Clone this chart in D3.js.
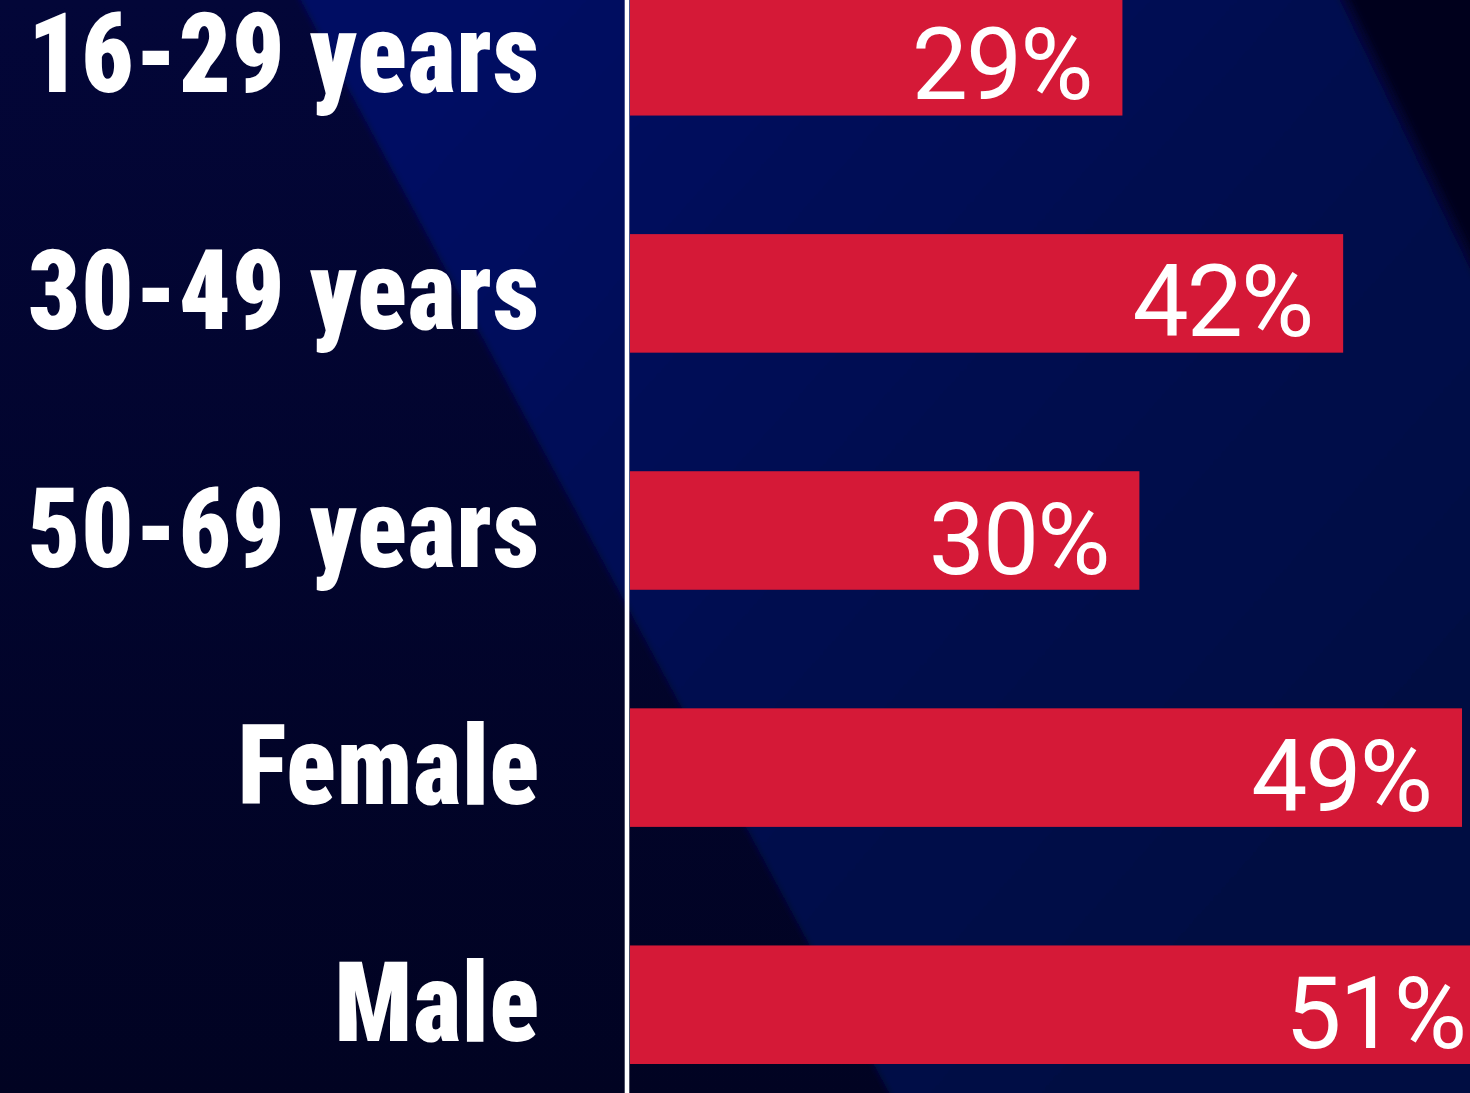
<!DOCTYPE html>
<html>
<head>
<meta charset="utf-8">
<script src="https://cdn.jsdelivr.net/npm/d3@7"></script>
<style>
  html, body { margin: 0; padding: 0; background: #02042a; overflow: hidden; }
  svg { display: block; }
</style>
</head>
<body>
<svg id="chart"></svg>
<script>
const categories = ["16-29 years", "30-49 years", "50-69 years", "Female", "Male"];
const shares = [29, 42, 30, 49, 51];

const W = 1470, H = 1093;
const axisX = 627;
const barLeft = 630;

const svg = d3.select("#chart").attr("width", W).attr("height", H);
const defs = svg.append("defs");

// background: dark navy with a diagonal lighter band
const bandGrad = defs.append("linearGradient")
  .attr("id", "band-grad")
  .attr("gradientUnits", "userSpaceOnUse")
  .attr("x1", 400).attr("y1", 100)
  .attr("x2", 1300).attr("y2", 900);
bandGrad.append("stop").attr("offset", 0).attr("stop-color", "#061064");
bandGrad.append("stop").attr("offset", 0.45).attr("stop-color", "#040d52");
bandGrad.append("stop").attr("offset", 1).attr("stop-color", "#030a42");

const leftGrad = defs.append("linearGradient")
  .attr("id", "left-grad")
  .attr("x1", 0).attr("y1", 0).attr("x2", 0).attr("y2", 1);
leftGrad.append("stop").attr("offset", 0).attr("stop-color", "#030638");
leftGrad.append("stop").attr("offset", 1).attr("stop-color", "#010322");

defs.append("filter").attr("id", "soft")
  .attr("x", "-5%").attr("y", "-5%").attr("width", "110%").attr("height", "110%")
  .append("feGaussianBlur").attr("stdDeviation", 3);

svg.append("rect").attr("width", W).attr("height", H).attr("fill", "url(#left-grad)");
svg.append("path")
  .attr("d", `M290,-20 L1330,-20 L${W + 20},310 L${W + 20},${H + 20} L900,${H + 20} Z`)
  .attr("fill", "url(#band-grad)")
  .attr("filter", "url(#soft)");
svg.append("path")
  .attr("d", `M1340,-20 L${W + 20},-20 L${W + 20},290 Z`)
  .attr("fill", "#02021a")
  .attr("filter", "url(#soft)");

const x = d3.scaleLinear().domain([0, 100]).range([barLeft, barLeft + 1698]);
const y = d3.scaleBand()
  .domain(categories)
  .range([-3, 1064])
  .paddingInner(0.5)
  .paddingOuter(0);

const data = categories.map((name, i) => ({ name, value: shares[i] }));

svg.append("g")
  .selectAll("rect")
  .data(data)
  .join("rect")
  .attr("x", x(0))
  .attr("y", (d) => y(d.name))
  .attr("width", (d) => x(d.value) - x(0))
  .attr("height", y.bandwidth())
  .attr("fill", "#d51937");

svg.append("line")
  .attr("x1", axisX).attr("x2", axisX)
  .attr("y1", 0).attr("y2", H)
  .attr("stroke", "#ffffff")
  .attr("stroke-width", 4.6);

svg.append("g")
  .selectAll("text")
  .data(data)
  .join("text")
  .attr("x", (d) => x(d.value) - 31)
  .attr("y", (d) => y(d.name) + y.bandwidth() / 2 + 43)
  .attr("text-anchor", "end")
  .attr("fill", "#ffffff")
  .style("font-family", "Roboto, 'Noto Sans', sans-serif")
  .style("font-weight", 400)
  .style("font-size", "100px")
  .style("letter-spacing", "-2px")
  .text((d) => d.value + "%");

// category labels: heavy condensed, right-aligned against the axis
const labels = svg.append("g")
  .selectAll("g")
  .data(data)
  .join("g")
  .attr("transform", (d) => `translate(540,${y(d.name) + y.bandwidth() / 2 + 36})`);

const labelText = labels.append("text")
  .attr("text-anchor", "end")
  .attr("fill", "#ffffff")
  .style("font-family", "'Roboto Condensed', Roboto, 'Liberation Sans Narrow', sans-serif")
  .style("font-weight", 900)
  .style("font-size", "111px")
  .style("letter-spacing", "1px")
  .text((d) => d.name);

const widest = labelText.nodes()[0].getComputedTextLength();
const sx = 512 / widest;
labelText.attr("transform", `scale(${sx},1)`);
</script>
</body>
</html>
